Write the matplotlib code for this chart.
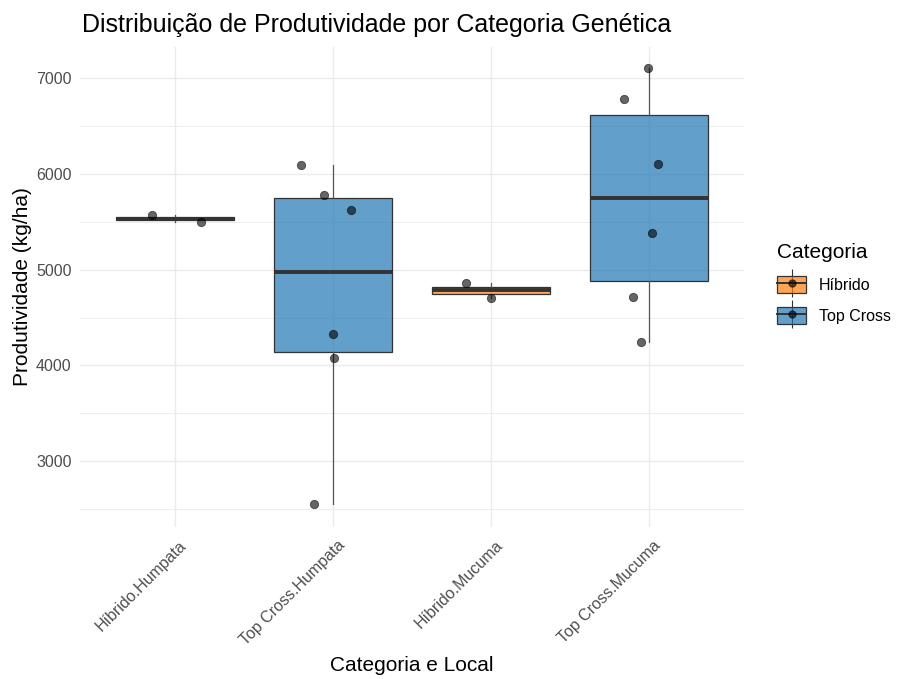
import matplotlib
matplotlib.use("Agg")
import matplotlib.pyplot as plt
import numpy as np
from matplotlib.patches import Patch
from matplotlib.lines import Line2D
from matplotlib.colors import to_rgba
from matplotlib.legend_handler import HandlerTuple
import matplotlib.transforms as mtransforms

plt.rcParams['font.family'] = ['Liberation Sans', 'DejaVu Sans']

groups = ["Híbrido.Humpata", "Top Cross.Humpata", "Híbrido.Mucuma", "Top Cross.Mucuma"]
group_cat = ["Híbrido", "Top Cross", "Híbrido", "Top Cross"]
values = [
    [5569, 5499],
    [6099, 5785, 5629, 4330, 4079, 2551],
    [4862, 4706],
    [7112, 6784, 6109, 5388, 4717, 4247],
]
jitter = [
    [-0.144, 0.163],
    [-0.205, -0.057, 0.112, 0.002, 0.008, -0.122],
    [-0.160, 0.002],
    [-0.006, -0.160, 0.059, 0.021, -0.101, -0.051],
]
cat_colors = {"Híbrido": "#FF7F0E", "Top Cross": "#1F77B4"}
yticks = [3000, 4000, 5000, 6000, 7000]
yminor = [2500, 3500, 4500, 5500, 6500]

fig = plt.figure(figsize=(9, 6.79), dpi=100)
ax = fig.add_axes([80/900, 1-527/679, (744-80)/900, (527-47)/679])

positions = np.arange(1, len(groups)+1)
bp = ax.boxplot(values, positions=positions, widths=0.75, patch_artist=True,
                whis=1.5, showfliers=False, showcaps=False,
                medianprops=dict(color='#333333', linewidth=2.8, solid_capstyle='butt'),
                whiskerprops=dict(color='#555555', linewidth=0.9),
                boxprops=dict(edgecolor='#333333', linewidth=0.9),
                zorder=2)
for patch, c in zip(bp['boxes'], group_cat):
    patch.set_facecolor(to_rgba(cat_colors[c], 0.7))
    patch.set_edgecolor('#333333')

for i, (vals, jit) in enumerate(zip(values, jitter)):
    xs = positions[i] + np.array(jit)
    ax.plot(xs, vals, 'o', color='black', alpha=0.6, markersize=6,
            markeredgewidth=0.6, markeredgecolor='black', zorder=4, linestyle='none')

ax.set_xlim(0.4, 4.6)
ax.set_ylim(2312, 7328)
ax.set_yticks(yticks)
ax.set_yticks(yminor, minor=True)
ax.set_xticks(positions)
ax.set_xticklabels(groups, rotation=45, ha='right', rotation_mode='anchor', va='top')
ax.grid(True, which='major', color='#EBEBEB', linewidth=1.0, zorder=0)
ax.grid(True, which='minor', axis='y', color='#EBEBEB', linewidth=0.6, zorder=0)
ax.set_axisbelow(True)
for s in ax.spines.values():
    s.set_visible(False)
ax.tick_params(axis='both', which='both', length=0, labelsize=11.5, labelcolor='#4D4D4D', pad=6)
ax.tick_params(axis='x', pad=4)
offset = mtransforms.ScaledTranslation(0.04, -0.05, fig.dpi_scale_trans)
for lab in ax.get_xticklabels():
    lab.set_transform(lab.get_transform() + offset)

ax.set_ylabel("Produtividade (kg/ha)", fontsize=15, color='black', labelpad=3)
ax.set_xlabel("Categoria e Local", fontsize=15, color='black', labelpad=6)
fig.text(82/900, 1-25/679, "Distribuição de Produtividade por Categoria Genética",
         fontsize=18, ha='left', va='center', color='black')

handles = []
labels = []
for c in ["Híbrido", "Top Cross"]:
    p = Patch(facecolor=to_rgba(cat_colors[c], 0.7), edgecolor='#333333', linewidth=0.9)
    vline = Line2D([], [], color='#333333', marker='|', markersize=20, linestyle='none', markeredgewidth=0.8)
    hline = Line2D([], [], color='#333333', linewidth=1.4)
    dot = Line2D([], [], color='black', alpha=0.6, marker='o', markersize=5, linestyle='none')
    handles.append((vline, p, hline, dot))
    labels.append(c)
leg = fig.legend(handles, labels, loc='upper left', bbox_to_anchor=(763/900, 1-229/679),
                 title="Categoria", frameon=False, fontsize=11.5, title_fontsize=15,
                 handler_map={tuple: HandlerTuple(ndivide=1, pad=0)},
                 handlelength=1.8, handleheight=1.3, labelspacing=0.85, handletextpad=0.8,
                 alignment='left')

fig.savefig("out.png", dpi=100)
